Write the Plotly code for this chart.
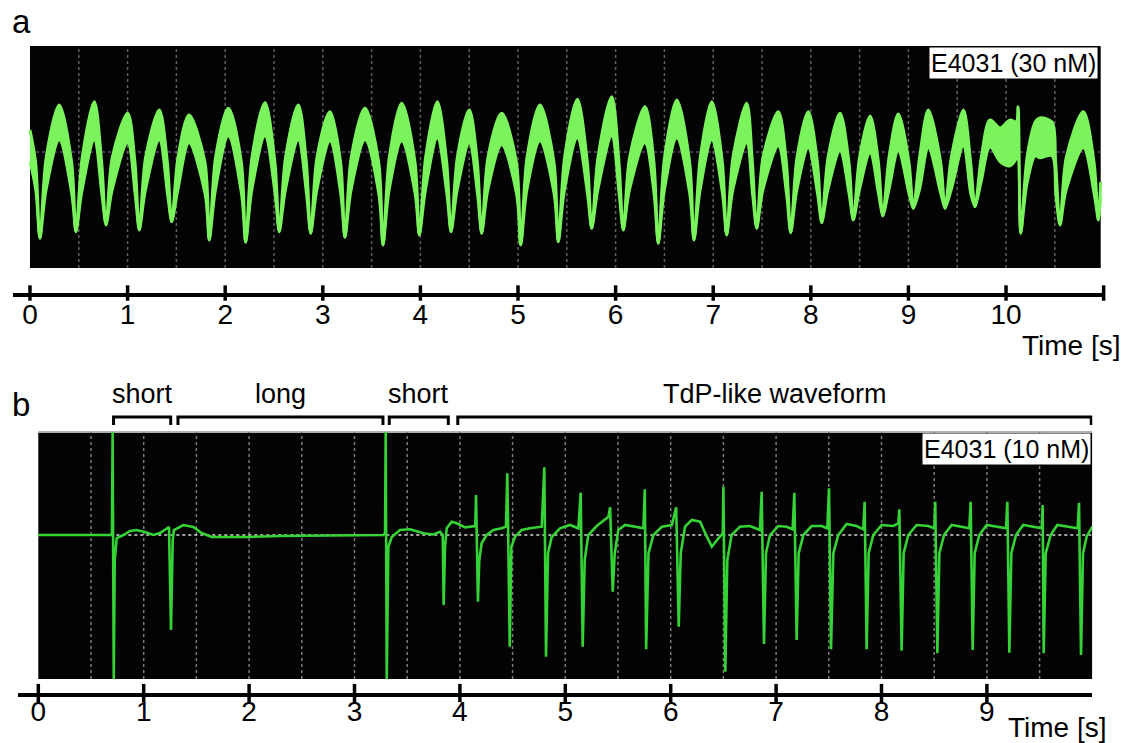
import plotly.graph_objects as go

# ---------------- Panel a : E4031 (30 nM) ----------------
# vertices of the noisy green band: time (s), upper edge and lower edge (a.u.)
a_time = [0.000, 0.057, 0.102,
          0.167, 0.300, 0.426, 0.471,
          0.536, 0.659, 0.734, 0.779,
          0.844, 1.001, 1.075, 1.120,
          1.185, 1.325, 1.407, 1.452,
          1.517, 1.629, 1.792, 1.837,
          1.902, 2.032, 2.165, 2.210,
          2.275, 2.408, 2.509, 2.554,
          2.619, 2.749, 2.831, 2.876,
          2.941, 3.074, 3.182, 3.227,
          3.292, 3.432, 3.572, 3.617,
          3.682, 3.808, 3.944, 3.989,
          4.054, 4.173, 4.269, 4.314,
          4.379, 4.501, 4.583, 4.628,
          4.693, 4.833, 4.983, 5.028,
          5.093, 5.225, 5.368, 5.413,
          5.478, 5.608, 5.710, 5.755,
          5.820, 5.960, 6.034, 6.079,
          6.144, 6.301, 6.392, 6.437,
          6.502, 6.626, 6.758, 6.803,
          6.868, 6.985, 7.093, 7.138,
          7.203, 7.343, 7.401, 7.446,
          7.511, 7.667, 7.749, 7.794,
          7.859, 7.974, 8.067, 8.112,
          8.177, 8.299, 8.390, 8.435,
          8.500, 8.607, 8.692, 8.737,
          8.802, 8.896, 9.005, 9.050,
          9.115, 9.204, 9.330, 9.375,
          9.440, 9.563, 9.637, 9.682,
          9.747, 9.836, 9.939, 10.041, 10.105, 10.123, 10.151,
          10.216, 10.300, 10.348, 10.470, 10.508, 10.553,
          10.618, 10.792, 10.901, 10.946,
          10.970]
a_upper = [0.22, -0.10, -0.863,
           -0.05, 0.47, -0.10, -0.797,
           -0.05, 0.503, -0.10, -0.73,
           -0.05, 0.387, -0.10, -0.78,
           -0.05, 0.42, -0.10, -0.697,
           -0.05, 0.37, -0.10, -0.88,
           -0.05, 0.437, -0.10, -0.903,
           -0.05, 0.493, -0.10, -0.797,
           -0.05, 0.47, -0.10, -0.813,
           -0.05, 0.403, -0.10, -0.853,
           -0.05, 0.437, -0.10, -0.93,
           -0.05, 0.487, -0.10, -0.83,
           -0.05, 0.503, -0.10, -0.797,
           -0.05, 0.42, -0.10, -0.813,
           -0.05, 0.387, -0.10, -0.93,
           -0.05, 0.47, -0.10, -0.897,
           -0.05, 0.527, -0.10, -0.763,
           -0.05, 0.553, -0.10, -0.78,
           -0.05, 0.453, -0.10, -0.913,
           -0.05, 0.52, -0.10, -0.88,
           -0.05, 0.503, -0.10, -0.83,
           -0.05, 0.487, -0.10, -0.763,
           -0.05, 0.403, -0.10, -0.807,
           -0.05, 0.403, -0.10, -0.707,
           -0.05, 0.387, -0.10, -0.68,
           -0.05, 0.36, -0.10, -0.64,
           -0.05, 0.38, -0.10, -0.563,
           -0.05, 0.42, -0.10, -0.563,
           -0.05, 0.42, -0.10, -0.547,
           -0.05, 0.32, 0.24, 0.32, 0.30, 0.453, -0.813,
           -0.05, 0.30, 0.34, 0.30, -0.10, -0.73,
           -0.05, 0.403, -0.10, -0.68,
           -0.30]
a_lower = [-0.10, -0.38, -0.863,
           -0.38, 0.12, -0.42, -0.797,
           -0.38, 0.12, -0.42, -0.73,
           -0.38, 0.09, -0.42, -0.78,
           -0.38, 0.12, -0.42, -0.697,
           -0.38, 0.09, -0.42, -0.88,
           -0.38, 0.16, -0.42, -0.903,
           -0.38, 0.16, -0.42, -0.797,
           -0.38, 0.12, -0.42, -0.813,
           -0.38, 0.11, -0.42, -0.853,
           -0.38, 0.12, -0.42, -0.93,
           -0.38, 0.11, -0.42, -0.83,
           -0.38, 0.14, -0.42, -0.797,
           -0.38, 0.09, -0.42, -0.813,
           -0.38, 0.07, -0.42, -0.93,
           -0.38, 0.11, -0.42, -0.897,
           -0.38, 0.14, -0.42, -0.763,
           -0.38, 0.16, -0.42, -0.78,
           -0.38, 0.09, -0.42, -0.913,
           -0.38, 0.14, -0.42, -0.88,
           -0.38, 0.12, -0.42, -0.83,
           -0.38, 0.09, -0.42, -0.763,
           -0.38, 0.06, -0.42, -0.807,
           -0.38, 0.04, -0.42, -0.707,
           -0.38, 0.01, -0.42, -0.68,
           -0.38, -0.01, -0.42, -0.64,
           -0.38, 0.01, -0.42, -0.563,
           -0.38, 0.04, -0.42, -0.563,
           -0.38, 0.06, -0.42, -0.547,
           -0.30, 0.05, -0.10, -0.14, -0.07, -0.02, -0.813,
           -0.32, -0.04, -0.06, -0.04, -0.42, -0.73,
           -0.38, 0.04, -0.42, -0.68,
           -0.45]
a_tick_vals = [0, 1, 2, 3, 4, 5, 6, 7, 8, 9, 10, 11]
a_tick_text = ["0", "1", "2", "3", "4", "5", "6", "7", "8", "9", "10", ""]

# ---------------- Panel b : E4031 (10 nM) ----------------
b_time = [0.0, 0.687, 0.699, 0.705, 0.716, 0.725, 0.744, 0.807, 0.870, 0.933,
          1.012, 1.091, 1.155, 1.218, 1.240, 1.259, 1.275, 1.287, 1.376, 1.471,
          1.550, 1.645, 1.977, 2.293, 3.273, 3.290, 3.296, 3.306, 3.321, 3.353,
          3.432, 3.527, 3.653, 3.748, 3.811, 3.837, 3.846, 3.859, 3.875, 3.922,
          3.970, 4.049, 4.146, 4.153, 4.171, 4.184, 4.206, 4.254, 4.318, 4.396,
          4.437, 4.450, 4.473, 4.488, 4.523, 4.586, 4.665, 4.776, 4.801, 4.817,
          4.836, 4.871, 4.950, 5.044, 5.124, 5.146, 5.165, 5.184, 5.218, 5.298,
          5.377, 5.409, 5.425, 5.450, 5.469, 5.503, 5.567, 5.646, 5.741, 5.754,
          5.767, 5.789, 5.836, 5.916, 6.011, 6.052, 6.076, 6.095, 6.136, 6.200,
          6.279, 6.343, 6.390, 6.453, 6.494, 6.500, 6.518, 6.537, 6.578, 6.657,
          6.752, 6.847, 6.863, 6.885, 6.904, 6.942, 7.021, 7.100, 7.157, 7.173,
          7.195, 7.214, 7.259, 7.337, 7.432, 7.486, 7.502, 7.521, 7.543, 7.590,
          7.669, 7.764, 7.827, 7.840, 7.859, 7.878, 7.922, 8.001, 8.112, 8.160,
          8.169, 8.191, 8.210, 8.254, 8.333, 8.444, 8.501, 8.510, 8.530, 8.549,
          8.593, 8.666, 8.776, 8.833, 8.846, 8.865, 8.884, 8.928, 8.998, 9.108,
          9.181, 9.194, 9.213, 9.232, 9.276, 9.345, 9.456, 9.520, 9.529, 9.539,
          9.558, 9.605, 9.668, 9.788, 9.861, 9.874, 9.893, 9.912, 9.946, 10.0]
b_value = [0.0, 0.0, 0.02, 1.03, -1.44, -0.25, -0.03, 0.0, 0.04, 0.05,
           0.03, 0.0, 0.02, 0.07, 0.08, -0.95, -0.05, 0.05, 0.10, 0.08,
           0.02, -0.02, -0.02, -0.01, 0.0, 0.02, 1.03, -1.44, -0.12, -0.02,
           0.05, 0.057, 0.017, 0.005, 0.033, 0.0, -0.70, -0.117, 0.067, 0.133,
           0.117, 0.077, 0.09, 0.40, -0.667, -0.25, -0.083, 0.0, 0.05, 0.067,
           0.083, 0.617, -1.117, -0.117, -0.017, 0.05, 0.067, 0.083, 0.677, -1.217,
           -0.183, -0.02, 0.067, 0.10, 0.067, 0.423, -1.117, -0.25, 0.0, 0.09,
           0.15, 0.183, 0.277, -0.567, -0.183, 0.05, 0.10, 0.083, 0.067, 0.457,
           -1.143, -0.183, 0.0, 0.083, 0.10, 0.277, -0.917, -0.183, 0.083, 0.15,
           0.133, -0.017, -0.117, -0.033, 0.017, 0.483, -1.367, -0.25, 0.0, 0.083,
           0.09, 0.05, 0.433, -1.09, -0.183, 0.0, 0.09, 0.083, 0.057, 0.423,
           -1.05, -0.183, 0.0, 0.09, 0.09, 0.067, 0.467, -1.143, -0.183, 0.0,
           0.11, 0.09, 0.057, 0.333, -1.143, -0.183, 0.0, 0.10, 0.09, 0.117,
           0.257, -1.157, -0.183, 0.0, 0.10, 0.09, 0.067, 0.333, -1.183, -0.183,
           0.0, 0.10, 0.083, 0.067, 0.333, -1.15, -0.183, 0.0, 0.10, 0.083,
           0.067, 0.333, -1.177, -0.183, 0.0, 0.10, 0.083, 0.067, 0.30, -1.183,
           -0.183, 0.0, 0.10, 0.083, 0.067, 0.323, -1.2, -0.183, -0.017, 0.083]
b_tick_vals = [0, 1, 2, 3, 4, 5, 6, 7, 8, 9]
b_tick_text = ["0", "1", "2", "3", "4", "5", "6", "7", "8", "9"]

bracket_start = [0.714, 1.325, 3.33, 3.98]
bracket_end = [1.256, 3.27, 3.89, 9.99]
bracket_labels = ["short", "long", "short", "TdP-like waveform"]

assert len(a_time) == len(a_upper) == len(a_lower)
assert len(b_time) == len(b_value)

# ---------------- styling / geometry ----------------
FONT = "Liberation Sans, Arial, sans-serif"
W, H = 1133, 743
A_BLACK = (0.0, 10.97, -1.16, 1.06)      # x0, x1, y0, y1 of the scope screen
B_BLACK = (0.0, 10.0, -1.44, 1.03)
A_YR = [-1.41, 1.06]
B_YR = [-1.58, 1.60]
GREEN_A = "#7af35c"
GREEN_B = "#35d335"

fig = go.Figure()

# panel a band
fig.add_trace(go.Scatter(x=a_time, y=a_lower, mode="lines",
                         line=dict(color=GREEN_A, width=2.5, shape="spline", smoothing=0.9),
                         xaxis="x", yaxis="y", hoverinfo="skip", showlegend=False))
fig.add_trace(go.Scatter(x=a_time, y=a_upper, mode="lines", fill="tonexty",
                         fillcolor=GREEN_A,
                         line=dict(color=GREEN_A, width=3, shape="spline", smoothing=0.9),
                         xaxis="x", yaxis="y", hoverinfo="skip", showlegend=False))
# panel b trace
fig.add_trace(go.Scatter(x=b_time, y=b_value, mode="lines",
                         line=dict(color=GREEN_B, width=2.6), xaxis="x2", yaxis="y2",
                         hoverinfo="skip", showlegend=False))

# tick marks crossing the axis lines
fig.add_trace(go.Scatter(x=a_tick_vals, y=[A_YR[0]] * len(a_tick_vals), mode="markers",
                         marker=dict(symbol="line-ns", size=11,
                                     line=dict(color="black", width=3.5)),
                         cliponaxis=False, xaxis="x", yaxis="y",
                         hoverinfo="skip", showlegend=False))
fig.add_trace(go.Scatter(x=b_tick_vals, y=[B_YR[0]] * len(b_tick_vals), mode="markers",
                         marker=dict(symbol="line-ns", size=13,
                                     line=dict(color="black", width=3.5)),
                         cliponaxis=False, xaxis="x2", yaxis="y2",
                         hoverinfo="skip", showlegend=False))

# brackets above panel b
bx, by = [], []
for s, e in zip(bracket_start, bracket_end):
    bx += [s, s, e, e, None]
    by += [1.10, 1.18, 1.18, 1.10, None]
fig.add_trace(go.Scatter(x=bx, y=by, mode="lines", line=dict(color="black", width=3),
                         xaxis="x2", yaxis="y2", hoverinfo="skip", showlegend=False))

shapes = []
for (x0, x1, y0, y1), xr, yr in [(A_BLACK, "x", "y"), (B_BLACK, "x2", "y2")]:
    shapes.append(dict(type="rect", xref=xr, yref=yr, x0=x0, x1=x1, y0=y0, y1=y1,
                       fillcolor="#030303", line=dict(width=0), layer="below"))
shapes.append(dict(type="line", xref="x2", yref="y2", x0=B_BLACK[0], x1=B_BLACK[1],
                   y0=B_BLACK[3], y1=B_BLACK[3], line=dict(color="#b0b0b0", width=2),
                   layer="below"))
for k in range(1, 22):
    g = 0.5 * k
    if g < A_BLACK[1]:
        shapes.append(dict(type="line", xref="x", yref="y", x0=g, x1=g,
                           y0=A_BLACK[2], y1=A_BLACK[3],
                           line=dict(color="#5e5e5e", width=1.5, dash="dot"), layer="below"))
    if g < B_BLACK[1]:
        shapes.append(dict(type="line", xref="x2", yref="y2", x0=g, x1=g,
                           y0=B_BLACK[2], y1=B_BLACK[3],
                           line=dict(color="#7a7a7a", width=1.5, dash="dot"), layer="below"))
shapes.append(dict(type="line", xref="x", yref="y", x0=A_BLACK[0], x1=A_BLACK[1], y0=0, y1=0,
                   line=dict(color="#6a3f80", width=1.5, dash="dot"), layer="below"))
shapes.append(dict(type="line", xref="x2", yref="y2", x0=B_BLACK[0], x1=B_BLACK[1], y0=0, y1=0,
                   line=dict(color="#d8d8d8", width=1.5, dash="dot"), layer="below"))

ann = []
for s, e, lab in zip(bracket_start, bracket_end, bracket_labels):
    ann.append(dict(x=(s + e) / 2, y=1.415, xref="x2", yref="y2", text=lab,
                    showarrow=False, font=dict(family=FONT, size=27, color="black"),
                    xanchor="center", yanchor="middle"))
ann += [
    dict(x=21.7 / W, y=1 - 21 / H, xref="paper", yref="paper", text="a", showarrow=False,
         font=dict(family=FONT, size=33, color="black"), xanchor="center", yanchor="middle"),
    dict(x=21 / W, y=1 - 404 / H, xref="paper", yref="paper", text="b", showarrow=False,
         font=dict(family=FONT, size=33, color="black"), xanchor="center", yanchor="middle"),
    dict(x=1071 / W, y=1 - 345 / H, xref="paper", yref="paper", text="Time [s]", showarrow=False,
         font=dict(family=FONT, size=28, color="black"), xanchor="center", yanchor="middle"),
    dict(x=1057 / W, y=1 - 727 / H, xref="paper", yref="paper", text="Time [s]", showarrow=False,
         font=dict(family=FONT, size=28, color="black"), xanchor="center", yanchor="middle"),
    dict(x=1098 / W, y=1 - 47 / H, xref="paper", yref="paper", text="E4031 (30 nM)",
         showarrow=False, bgcolor="white", borderpad=1,
         font=dict(family=FONT, size=25, color="black"), xanchor="right", yanchor="top"),
    dict(x=1091 / W, y=1 - 433 / H, xref="paper", yref="paper", text="E4031 (10 nM)",
         showarrow=False, bgcolor="white", borderpad=1,
         font=dict(family=FONT, size=25, color="black"), xanchor="right", yanchor="top"),
]

axis_common = dict(showgrid=False, zeroline=False, showline=True, linewidth=4,
                   linecolor="black", ticks="", fixedrange=True,
                   tickfont=dict(family=FONT, size=28, color="black"))

fig.update_layout(
    width=W, height=H,
    margin=dict(l=0, r=0, t=0, b=0),
    paper_bgcolor="white", plot_bgcolor="white",
    xaxis=dict(domain=[13 / W, 1105 / W], range=[-0.174, 11.014], anchor="y",
               tickmode="array", tickvals=a_tick_vals, ticktext=a_tick_text,
               ticklabelstandoff=-7, **axis_common),
    yaxis=dict(domain=[1 - 293 / H, 1 - 46 / H], range=A_YR, visible=False, fixedrange=True),
    xaxis2=dict(domain=[18 / W, 1092.3 / W], range=[-0.1926, 10.0], anchor="y2",
                tickmode="array", tickvals=b_tick_vals, ticktext=b_tick_text,
                ticklabelstandoff=-10, **axis_common),
    yaxis2=dict(domain=[1 - 693 / H, 1 - 375 / H], range=B_YR, visible=False, fixedrange=True),
    shapes=shapes,
    annotations=ann,
    showlegend=False,
)

fig.write_html("out.html", config={"displayModeBar": False},
               post_script="document.body.style.margin='0px';")
